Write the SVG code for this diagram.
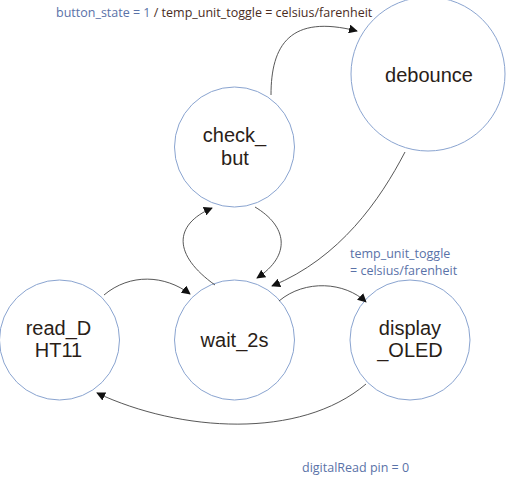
<svg xmlns="http://www.w3.org/2000/svg" width="510" height="494" viewBox="0 0 510 494">
<style>
.node{fill:#fff;stroke:#8aa4d0;stroke-width:1}
.nt{font-family:"Liberation Sans",Arial,sans-serif;font-size:20px;fill:#2a1e18;text-anchor:middle}
.edge{fill:none;stroke:#444;stroke-width:0.9;marker-end:url(#arr)}
.lbl{font-family:"Open Sans","Noto Sans",sans-serif;font-size:12.5px;fill:#5a72a8}
.dk{fill:#4a2c1e}
</style>
<defs>
<marker id="arr" viewBox="0 0 10 10" refX="9" refY="5" markerWidth="9" markerHeight="9" markerUnits="userSpaceOnUse" orient="auto">
<path d="M0,0 L10,5 L0,10 z" fill="#111"/>
</marker>
</defs>
<rect width="510" height="494" fill="#fff"/>
<g id="n-debounce"><circle class="node" cx="428" cy="74" r="77"/><text class="nt" x="429" y="82">debounce</text></g>
<g id="n-check_but"><circle class="node" cx="234.5" cy="147" r="60"/><text class="nt" x="234.5" y="142">check_</text><text class="nt" x="235" y="165">but</text></g>
<g id="n-wait_2s"><circle class="node" cx="234.5" cy="340" r="60"/><text class="nt" x="234.5" y="347">wait_2s</text></g>
<g id="n-read_DHT11"><circle class="node" cx="59.5" cy="340" r="60"/><text class="nt" x="58.5" y="335">read_D</text><text class="nt" x="58.5" y="357">HT11</text></g>
<g id="n-display_OLED"><circle class="node" cx="410" cy="340" r="60"/><text class="nt" x="410" y="335">display</text><text class="nt" x="410" y="357">_OLED</text></g>
<g id="connectors">
<path class="edge" d="M271,95 C271,45 290,14 357,31"/>
<path class="edge" d="M255,207 C287,226 292,255 257,278"/>
<path class="edge" d="M215,285 C173,255 173,225 212,208"/>
<path class="edge" d="M405,152 C380,200 340,258 272,286"/>
<path class="edge" d="M104,295 C130,273 165,275 190,294"/>
<path class="edge" d="M279,301 C305,279 345,282 366,302"/>
<path class="edge" d="M366,384 C300,440 180,432 97,393"/>
</g>
<g id="labels">
<text class="lbl" x="56" y="17">button_state = 1 <tspan class="dk">/ temp_unit_toggle = celsius/farenheit</tspan></text>
<text class="lbl" x="350" y="258">temp_unit_toggle</text>
<text class="lbl" x="350" y="275">= celsius/farenheit</text>
<text class="lbl" x="302" y="472">digitalRead pin = 0</text>
</g>
</svg>
